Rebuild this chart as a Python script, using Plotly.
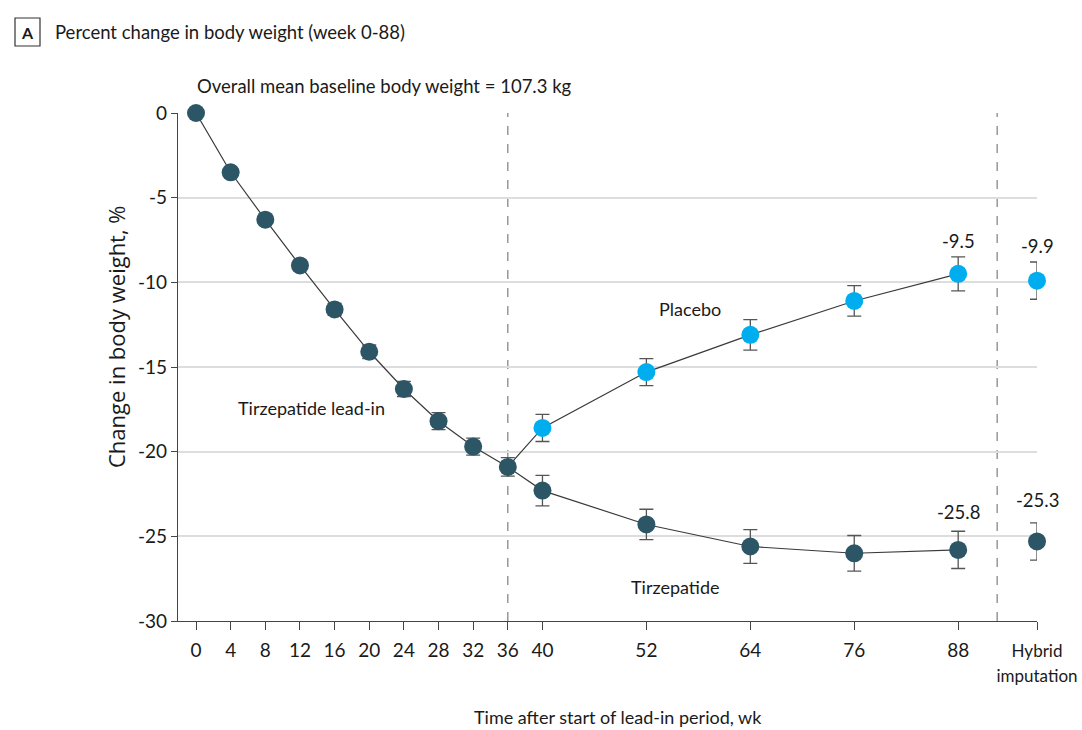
import plotly.graph_objects as go

# ---- data ----
leadin_weeks = [0, 4, 8, 12, 16, 20, 24, 28, 32, 36]
leadin_vals = [0.0, -3.5, -6.3, -9.0, -11.6, -14.1, -16.3, -18.2, -19.7, -20.9]
leadin_err = [0.1, 0.15, 0.2, 0.3, 0.35, 0.4, 0.45, 0.5, 0.5, 0.55]

tirz_weeks = [36, 40, 52, 64, 76, 88]
tirz_vals = [-20.9, -22.3, -24.3, -25.6, -26.0, -25.8]
tirz_err = [0.55, 0.9, 0.9, 1.0, 1.05, 1.1]

plac_weeks = [36, 40, 52, 64, 76, 88]
plac_vals = [-20.9, -18.6, -15.3, -13.1, -11.1, -9.5]
plac_err = [0.55, 0.8, 0.8, 0.9, 0.9, 1.0]

hybrid_x = 97.1
hybrid_tirz, hybrid_tirz_err = -25.3, 1.1
hybrid_plac, hybrid_plac_err = -9.9, 1.1

tick_vals = [0, 4, 8, 12, 16, 20, 24, 28, 32, 36, 40, 52, 64, 76, 88, 97.1]
tick_text = ["0", "4", "8", "12", "16", "20", "24", "28", "32", "36", "40",
             "52", "64", "76", "88",
             "<span style='font-size:17px'>Hybrid<br>imputation</span>"]

DARK = "#2c5566"
BLUE = "#00aeef"
LINE = "#3a3a3a"
ERR = "#555555"
FONT = "Lato, Roboto, sans-serif"

fig = go.Figure()

def line_trace(x, y):
    fig.add_trace(go.Scatter(x=x, y=y, mode="lines",
                             line=dict(color=LINE, width=1.2),
                             hoverinfo="skip", showlegend=False, cliponaxis=False))

def pts(x, y, e, color):
    fig.add_trace(go.Scatter(x=x, y=y, mode="markers",
                             marker=dict(color=color, size=18, line=dict(width=0)),
                             error_y=dict(type="data", array=e, color=ERR,
                                          thickness=1.3, width=7),
                             showlegend=False, cliponaxis=False))

line_trace(leadin_weeks, leadin_vals)
line_trace(tirz_weeks, tirz_vals)
line_trace(plac_weeks, plac_vals)

pts(plac_weeks[1:] + [hybrid_x], plac_vals[1:] + [hybrid_plac],
    plac_err[1:] + [hybrid_plac_err], BLUE)
pts(tirz_weeks[1:] + [hybrid_x], tirz_vals[1:] + [hybrid_tirz],
    tirz_err[1:] + [hybrid_tirz_err], DARK)
pts(leadin_weeks, leadin_vals, leadin_err, DARK)

# dashed separators
for xv in [36, 92.5]:
    fig.add_shape(type="line", x0=xv, x1=xv, y0=-30, y1=0, xref="x", yref="y",
                  line=dict(color="#888888", width=1.3, dash="dash"), layer="below")

ann = []
def txt(x, y, s, size=18, xref="x", yref="y", xanchor="center", yanchor="middle",
        family=FONT, angle=0):
    ann.append(dict(x=x, y=y, text=s, xref=xref, yref=yref, showarrow=False,
                    xanchor=xanchor, yanchor=yanchor, textangle=angle,
                    font=dict(family=family, size=size, color="#1a1a1a")))

txt(88, -7.56, "-9.5", size=18.5)
txt(hybrid_x, -7.86, "-9.9", size=18.5)
txt(88, -23.57, "-25.8", size=18.5)
txt(hybrid_x, -22.86, "-25.3", size=18.5)
txt(13.3, -17.4, "Tirzepatide lead-in")
txt(57.0, -11.6, "Placebo")
txt(55.4, -28.0, "Tirzepatide")

# header / axis-title texts (pixel positions converted to paper coordinates)
txt(53, 32, "Percent change in body weight (week 0-88)", size=18.5,
    xref="paper", yref="paper", xanchor="left")
txt(384, 86, "Overall mean baseline body weight = 107.3 kg", size=18.5,
    xref="paper", yref="paper")
txt(27, 32, "<b>A</b>", size=16, xref="paper", yref="paper")
txt(618, 717, "Time after start of lead-in period, wk", size=18,
    xref="paper", yref="paper")
txt(116, 337, "Change in body weight, %", size=22, xref="paper", yref="paper",
    family="Open Sans, sans-serif", angle=-90)

L, R, T, B = 178, 45, 113, 109
W, H = 1082, 730
pw, ph = W - L - R, H - T - B
for a in ann:
    if a["xref"] == "paper":
        a["x"] = (a["x"] - L) / pw
        a["y"] = (H - B - a["y"]) / ph
fig.update_layout(annotations=ann)

fig.add_shape(type="rect", xref="paper", yref="paper",
              x0=(15 - L) / pw, x1=(40 - L) / pw,
              y0=(H - B - 46) / ph, y1=(H - B - 18) / ph,
              line=dict(color="#333333", width=1.2))

fig.update_layout(
    width=W, height=H,
    margin=dict(l=L, r=R, t=T, b=B, autoexpand=False),
    paper_bgcolor="white", plot_bgcolor="white",
    font=dict(family=FONT, size=18, color="#1a1a1a"),
    xaxis=dict(range=[-2.08, 97.1], tickvals=tick_vals, ticktext=tick_text,
               automargin=False, ticklabeloverflow="allow",
               showgrid=False, zeroline=False, showline=True, linecolor="#444",
               linewidth=1.2, ticks="outside", ticklen=8, tickcolor="#444",
               tickfont=dict(size=19), ticklabelstandoff=4),
    yaxis=dict(range=[-30, 0], tickvals=[0, -5, -10, -15, -20, -25, -30],
               ticktext=["0", "-5", "-10", "-15", "-20", "-25", "-30"],
               automargin=False,
               showgrid=True, gridcolor="#dddddd", gridwidth=1.5,
               zeroline=False, showline=True, linecolor="#444", linewidth=1.2,
               ticks="outside", ticklen=6, tickcolor="#444",
               tickfont=dict(size=19)),
)

fig.write_html("out.html")
